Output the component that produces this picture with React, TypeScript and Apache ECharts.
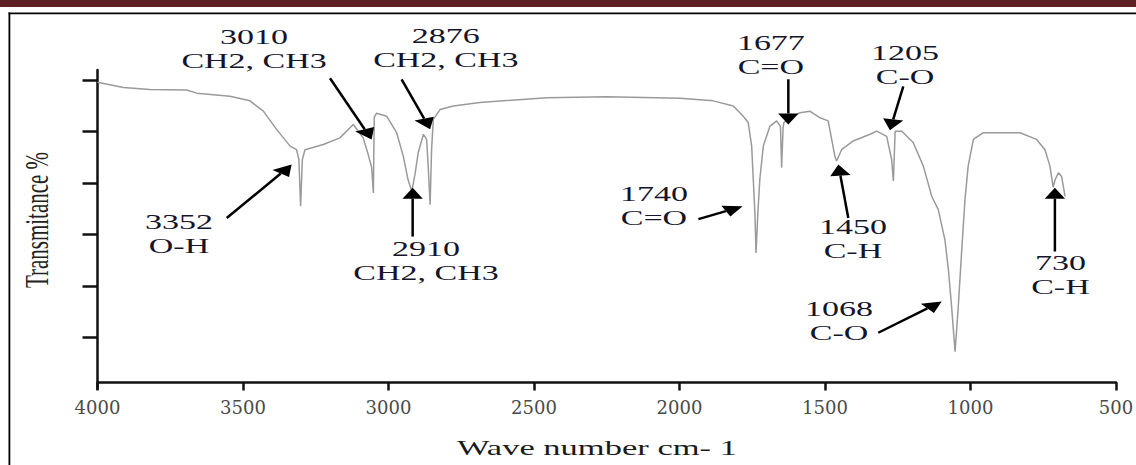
import React, { useEffect, useRef } from "react";
import * as echarts from "echarts";

// Spectrum trace (wavenumber cm-1, transmittance)
const wavenumbers = [4000, 3911, 3820, 3693, 3659, 3545, 3476, 3430, 3384, 3338, 3316, 3308, 3302, 3296, 3287, 3224, 3167, 3121, 3087, 3070, 3058, 3052, 3049, 3041, 3006, 2972, 2949, 2933, 2920, 2909, 2898, 2880, 2869, 2863, 2857, 2852, 2846, 2823, 2777, 2686, 2456, 2250, 1998, 1884, 1815, 1781, 1764, 1752, 1741, 1737, 1731, 1724, 1712, 1689, 1666, 1653, 1649, 1644, 1641, 1586, 1552, 1517, 1489, 1477, 1466, 1460, 1443, 1403, 1345, 1322, 1288, 1271, 1265, 1259, 1236, 1197, 1162, 1133, 1111, 1088, 1076, 1065, 1053, 1042, 1030, 1019, 1008, 990, 956, 899, 830, 773, 744, 727, 716, 709, 698, 687, 675];
const transmittance = [59.6, 58.6, 58.2, 58.1, 57.5, 56.9, 56.0, 54.0, 50.4, 47.2, 46.5, 44.6, 35.5, 44.6, 46.5, 47.5, 48.8, 51.4, 48.8, 45.6, 43.1, 38.1, 52.8, 53.6, 53.0, 49.8, 45.2, 40.7, 38.4, 41.7, 45.9, 49.5, 48.5, 42.7, 35.8, 46.5, 52.4, 54.3, 55.0, 55.7, 56.6, 56.8, 56.5, 56.0, 55.0, 53.0, 51.8, 47.2, 34.3, 26.4, 33.9, 40.7, 47.2, 51.1, 52.1, 51.0, 43.0, 50.8, 51.8, 53.7, 54.0, 52.7, 52.1, 48.5, 45.2, 44.3, 46.5, 48.2, 49.5, 50.1, 49.1, 44.6, 40.4, 50.1, 50.1, 47.9, 43.3, 37.4, 34.9, 29.0, 23.2, 16.0, 7.2, 16.0, 27.1, 36.8, 43.3, 48.5, 49.8, 49.8, 49.8, 48.5, 46.5, 43.3, 39.2, 40.7, 42.0, 41.3, 37.4];

// Axis ticks
const xTicks = [500, 1000, 1500, 2000, 2500, 3000, 3500, 4000];
const yTicks = [10, 20, 30, 40, 50, 60];

// Peak annotations
const annoLabels = ["3010\nCH2, CH3", "2876\nCH2, CH3", "1677\nC=O", "1205\nC-O", "3352\nO-H", "2910\nCH2, CH3", "1740\nC=O", "1450\nC-H", "1068\nC-O", "730\nC-H"];
const annoTextWn = [3462, 2803, 1686, 1225, 3720, 2871, 2088, 1404, 1452, 691];
const annoTextVal = [66.1, 66.2, 64.9, 62.9, 30.0, 24.9, 35.6, 29.0, 13.1, 22.0];
const arrowTailWn = [3201, 2955, 1626, 1231, 3556, 2917, 1935, 1420, 1317, 710];
const arrowTailVal = [60.4, 60.2, 60.2, 58.8, 33.2, 29.6, 33.0, 33.2, 10.9, 26.7];
const arrowTipWn = [3058, 2857, 1626, 1277, 3333, 2917, 1783, 1454, 1099, 710];
const arrowTipVal = [48.5, 50.5, 51.4, 50.3, 43.6, 39.1, 35.5, 43.6, 17.0, 39.1];

const STRETCH = 1.7;

function arrowElements(x1: number, y1: number, x2: number, y2: number) {
  const dx = (x2 - x1) / STRETCH;
  const dy = y2 - y1;
  const L = Math.hypot(dx, dy) || 1;
  const ux = dx / L;
  const uy = dy / L;
  const headLen = 11;
  const half = 6;
  const bx = x2 - ux * headLen * STRETCH;
  const by = y2 - uy * headLen;
  const px = -uy;
  const py = ux;
  const p1 = [bx + px * half * STRETCH, by + py * half];
  const p2 = [bx - px * half * STRETCH, by - py * half];
  return [
    {
      type: "line",
      z: 100,
      shape: { x1, y1, x2: bx, y2: by },
      style: { stroke: "#000", lineWidth: 2.5 },
    },
    {
      type: "polygon",
      z: 100,
      shape: { points: [[x2, y2], p1, p2] },
      style: { fill: "#000" },
    },
  ];
}

export default function App() {
  const ref = useRef<HTMLDivElement>(null);

  useEffect(() => {
    if (!ref.current) return;
    const chart = echarts.init(ref.current, null, { renderer: "svg" });
    const seriesData = wavenumbers.map((w, i) => [w, transmittance[i]]);

    chart.setOption({
      animation: false,
      backgroundColor: "#ffffff",
      grid: {
        left: 97.5,
        right: 20,
        top: 70,
        bottom: 76.2,
        containLabel: false,
        outerBoundsMode: "none",
      },
      xAxis: {
        type: "value",
        min: 500,
        max: 4000,
        interval: 500,
        inverse: true,
        offset: -6.3,
        splitLine: { show: false },
        axisLine: { show: true, onZero: false, lineStyle: { color: "#111", width: 2.5 } },
        axisTick: { show: true, inside: false, length: 8, lineStyle: { color: "#111", width: 2.5 } },
        axisLabel: {
          show: true,
          margin: 16,
          color: "#4a4a4a",
          fontFamily: "DejaVu Serif",
          fontSize: 18,
          customValues: xTicks,
          formatter: (v: number) => String(v),
        },
      },
      yAxis: {
        type: "value",
        min: 0,
        max: 62,
        interval: 10,
        splitLine: { show: false },
        axisLine: { show: true, onZero: false, lineStyle: { color: "#111", width: 2.5 } },
        axisTick: { show: true, inside: false, length: 15, customValues: yTicks, lineStyle: { color: "#111", width: 2.5 } },
        axisLabel: { show: false },
      },
      series: [
        {
          type: "line",
          data: seriesData,
          showSymbol: false,
          symbol: "none",
          smooth: false,
          lineStyle: { color: "#9a9a9a", width: 1.5 },
          silent: true,
        },
      ],
    });

    const graphics: any[] = [
      { type: "rect", z: 50, shape: { x: 0, y: 0, width: 1136, height: 7 }, style: { fill: "#5e2022" } },
      { type: "rect", z: 50, shape: { x: 8.5, y: 12.5, width: 1128, height: 1.8 }, style: { fill: "#000" } },
      { type: "rect", z: 50, shape: { x: 8.5, y: 12.5, width: 1.8, height: 453 }, style: { fill: "#000" } },
      {
        type: "text",
        z: 100,
        x: 597,
        y: 447,
        scaleX: 1.57,
        style: {
          text: "Wave number cm- 1",
          font: '22px "Liberation Serif"',
          fill: "#1a1a1a",
          align: "center",
          verticalAlign: "middle",
          textAlign: "center",
          textVerticalAlign: "middle",
        },
      },
      {
        type: "text",
        z: 100,
        x: 36.5,
        y: 220,
        rotation: Math.PI / 2,
        scaleY: 1.6,
        style: {
          text: "Transmitance %",
          font: '21px "Liberation Serif"',
          fill: "#222",
          align: "center",
          verticalAlign: "middle",
          textAlign: "center",
          textVerticalAlign: "middle",
        },
      },
    ];

    annoLabels.forEach((label, i) => {
      const t = chart.convertToPixel({ gridIndex: 0 }, [annoTextWn[i], annoTextVal[i]]) as number[];
      const a = chart.convertToPixel({ gridIndex: 0 }, [arrowTailWn[i], arrowTailVal[i]]) as number[];
      const b = chart.convertToPixel({ gridIndex: 0 }, [arrowTipWn[i], arrowTipVal[i]]) as number[];
      graphics.push({
        type: "text",
        z: 100,
        x: t[0],
        y: t[1],
        scaleX: STRETCH,
        style: {
          text: label,
          font: '20px "Liberation Serif"',
          fill: "#14142a",
          lineHeight: 24,
          align: "center",
          verticalAlign: "middle",
          textAlign: "center",
          textVerticalAlign: "middle",
        },
      });
      graphics.push(...arrowElements(a[0], a[1], b[0], b[1]));
    });

    chart.setOption({ graphic: graphics });

    return () => {
      chart.dispose();
    };
  }, []);

  return (
    <div
      ref={ref}
      style={{ position: "absolute", left: 0, top: 0, width: 1136, height: 465 }}
    />
  );
}
